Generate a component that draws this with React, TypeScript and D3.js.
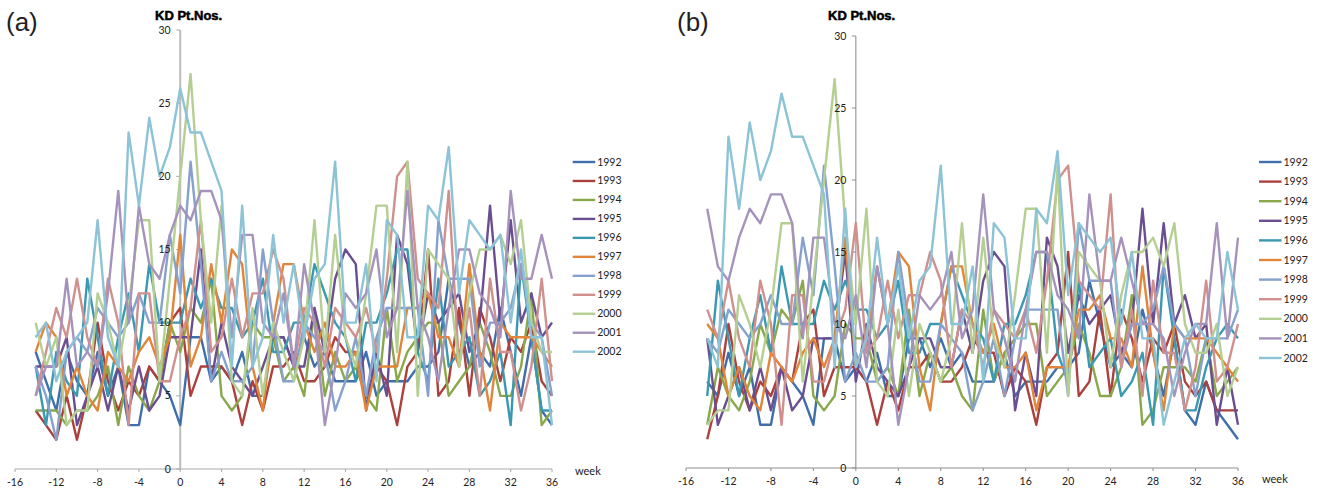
import React from "react";
import * as d3 from "d3";

// Weekly patient numbers per year, read at weeks -14..36 of panel (a); the extra values at the end
// of each list are the last weeks of panel (b), where each year is moved earlier by its offset.
const y1992 = [8,6,4,8,6,5,8,5,7,3, 3,7,6,5,3,9,9,6,7,6, 8,5,5,9,9,7,9,7,8,6, 6,6,8,5,6,6,6,7,7,8, 13,10,7,8,7,11,8,5,9,4,3, 6,4,3,2];
const y1993 = [4,3,2,5,2,5,10,6,4,6, 5,7,6,10,11,5,7,7,7,6, 3,6,4,7,7,8,6,6,7,9, 8,8,5,7,6,3,7,8,15,5, 6,11,5,11,9,6,9,8,10,6,5, 6,4,4,4];
const y1994 = [4,4,4,3,4,4,5,7,3,7, 5,4,6,10,8,11,10,13,5,4, 5,10,9,9,6,7,5,11,5,8, 6,7,5,4,11,6,8,9,10,10, 5,6,7,10,8,5,5,7,12,3,4, 7,7,7,6,9,5,6,7];
const y1995 = [7,7,7,9,3,5,7,4,7,4, 7,4,5,9,9,9,15,6,10,7, 6,5,7,9,9,7,7,11,8,13, 15,14,4,8,5,16,14,8,12,10, 11,12,8,10,18,10,17,10,12,9,10, 3,7,3];
const y1996 = [7,3,8,6,5,13,9,5,9,12, 8,14,10,10,10,13,11,13,11,11, 9,10,13,8,8,10,10,14,12,10, 9,6,10,10,12,15,15,8,6,13, 7,8,9,5,6,8,3,14,9,4,4, 7,9,10,9];
const y1997 = [8,10,9,5,7,5,4,8,7,6, 8,9,7,9,16,7,9,14,10,15, 14,7,4,10,14,14,10,8,10,7, 7,8,4,7,7,7,11,11,12,9, 9,7,14,8,4,10,9,9,9,8,7, 6];
const y1998 = [7,5,2,8,9,8,11,10,9,10, 12,10,10,16,12,21,14,6,8,6, 6,7,15,10,6,6,10,9,8,4, 6,9,5,9,11,11,11,11,5,17, 13,13,13,7,10,10,11,14,10,9,5, 9,9,9,11];
const y1999 = [5,8,11,9,13,9,7,13,10,3, 12,12,6,6,9,11,17,8,9,13, 9,12,12,15,13,7,11,10,7,11, 10,9,11,8,13,20,21,13,12,11, 19,7,11,5,13,8,8,4,7,13,6, 7,10];
const y2000 = [10,7,9,3,4,4,12,10,7,11, 17,17,6,13,20,27,17,10,18,6, 5,11,5,10,8,6,9,17,8,16, 9,7,12,18,18,8,21,5,15,14, 13,7,12,15,15,16,14,17,10,8,8, 10,5,7];
const y2001 = [5,7,7,13,7,8,7,12,19,10, 18,14,13,16,18,17,19,19,17,9, 16,16,10,9,12,7,14,10,3,7, 12,11,12,15,9,11,19,11,9,6, 11,15,15,12,11,9,19,13,13,16,13, 10,10,9,5,8,10,10,17,9,16];
const y2002 = [9,10,6,8,9,10,17,9,7,23, 18,24,20,22,26,23,23,21,19,7, 18,7,9,16,10,14,9,13,14,21, 10,10,14,6,17,16,9,9,18,17, 22,12,17,16,15,16,10,15,9,9,3, 6,9,10,9,9,15,11];

const years = ["1992","1993","1994","1995","1996","1997","1998","1999","2000","2001","2002"];
const seriesValues = [y1992,y1993,y1994,y1995,y1996,y1997,y1998,y1999,y2000,y2001,y2002];
const offsets = [4,4,8,3,4,1,4,2,3,10,7];
const colors = ["#3f6fab","#ab403d","#88a84b","#6a4e90","#3a98b1","#e0853a","#86a1cd","#cf908e","#b5cf93","#a593bc","#8cc3d6"];
const xTicks = [-16,-12,-8,-4,0,4,8,12,16,20,24,28,32,36];
const yTicks = [0,5,10,15,20,25,30];
const FIRST_WEEK = -14;
const LAST_WEEK = 36;

const LABEL_FONT = "Lato, 'Open Sans', sans-serif";
const TITLE_FONT = "'Liberation Sans', Arial, sans-serif";

type PanelProps = {
  name: string; shifted: boolean;
  x0: number; x1: number; y0: number; y1: number;
  axisColor: string; yAxisColor: string; yAxisWidth: number;
  titleX: number; nameX: number; weekX: number; weekY: number;
  legendLine: number; legendTop: number; legendStep: number;
};

function Panel(p: PanelProps) {
  const x = d3.scaleLinear().domain([-16, 36]).range([p.x0, p.x1]);
  const y = d3.scaleLinear().domain([0, 30]).range([p.y0, p.y1]);
  const line = d3.line<[number, number]>().x(d => x(d[0])).y(d => y(d[1])).curve(d3.curveLinear);
  const weeks = d3.range(FIRST_WEEK, LAST_WEEK + 1);
  const legend = d3.scaleLinear().domain([0, 1]).range([p.legendTop, p.legendTop + p.legendStep]);
  return (
    <g>
      <text x={p.nameX} y={31} fontFamily={TITLE_FONT} fontSize={26} fill="#222">{p.name}</text>
      <text x={p.titleX} y={20} fontFamily={TITLE_FONT} fontSize={13} fontWeight={700} fill="#000" stroke="#000" strokeWidth={0.5}>KD Pt.Nos.</text>
      <line x1={x(0)} x2={x(0)} y1={y(0)} y2={y(30)} stroke={p.yAxisColor} strokeWidth={p.yAxisWidth} />
      <line x1={x(-16)} x2={x(36)} y1={y(0)} y2={y(0)} stroke={p.axisColor} strokeWidth={1} />
      {xTicks.map(t => (
        <line key={t} x1={x(t)} x2={x(t)} y1={y(0)} y2={y(0) + 3} stroke={p.axisColor} />
      ))}
      {yTicks.map(t => (
        <line key={t} x1={x(0) - 4} x2={x(0)} y1={y(t)} y2={y(t)} stroke={p.axisColor} />
      ))}
      {seriesValues.map((vals, i) => {
        const offs = p.shifted ? offsets[i] : 0;
        const pts = weeks.map((w, k) => [w, vals[k + offs]] as [number, number]);
        return <path key={years[i]} d={line(pts) ?? ""} fill="none" stroke={colors[i]} strokeWidth={2.4} strokeLinejoin="round" />;
      })}
      {xTicks.map(t => (
        <text key={t} x={x(t)} y={y(0) + 17} textAnchor="middle" fontFamily={LABEL_FONT} fontSize={10.5} fill="#222">{t}</text>
      ))}
      {yTicks.map(t => (
        <text key={t} x={x(0) - 9.5} y={y(t) + 3.5} textAnchor="end" fontFamily={LABEL_FONT} fontSize={10.5} fill="#222">{t}</text>
      ))}
      <text x={p.weekX} y={p.weekY} fontFamily={LABEL_FONT} fontSize={11} fill="#222">week</text>
      {years.map((yr, i) => (
        <g key={yr}>
          <line x1={p.legendLine} x2={p.legendLine + 22.5} y1={legend(i)} y2={legend(i)} stroke={colors[i]} strokeWidth={2.4} />
          <text x={p.legendLine + 24.5} y={legend(i) + 3.5} fontFamily={LABEL_FONT} fontSize={10.5} fill="#222">{yr}</text>
        </g>
      ))}
    </g>
  );
}

export default function App() {
  return (
    <svg width={1318} height={491} style={{ position: "absolute", left: 0, top: 0, background: "#fff" }}>
      <Panel name="(a)" shifted={false} x0={15} x1={552} y0={469} y1={30}
        axisColor="#a8a8a8" yAxisColor="#bcbcbc" yAxisWidth={2}
        titleX={155} nameX={6} weekX={575} weekY={475}
        legendLine={572.7} legendTop={162} legendStep={18.97} />
      <Panel name="(b)" shifted={true} x0={686} x1={1238} y0={468} y1={36}
        axisColor="#8e8e8e" yAxisColor="#868686" yAxisWidth={1}
        titleX={828} nameX={677} weekX={1262} weekY={483}
        legendLine={1259} legendTop={162} legendStep={19.6} />
    </svg>
  );
}
